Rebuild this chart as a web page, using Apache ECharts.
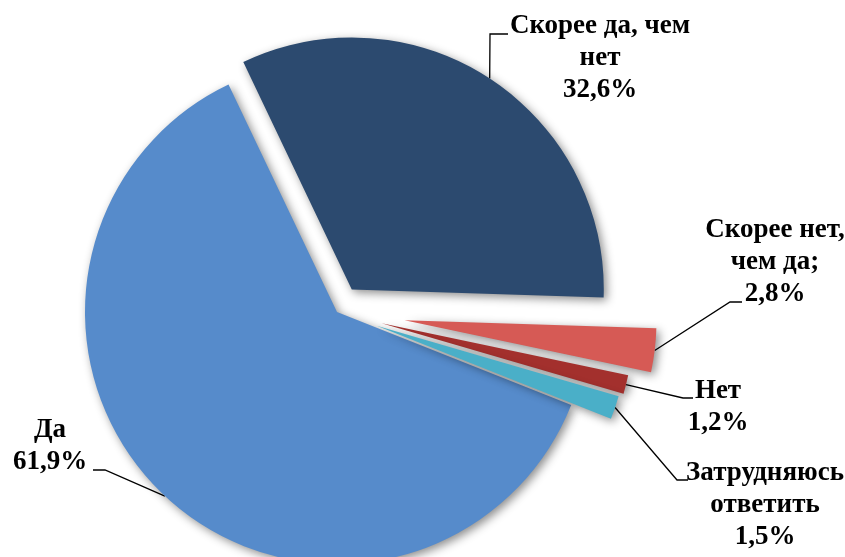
<!DOCTYPE html>
<html>
<head>
<meta charset="utf-8">
<script src="https://cdn.jsdelivr.net/npm/echarts@6/dist/echarts.min.js"></script>
<style>
  html, body { margin: 0; padding: 0; background: #fff; }
  #chart { width: 845px; height: 557px; }
</style>
</head>
<body>
<div id="chart"></div>
<script>
var categories = ['Скорее да, чем\nнет', 'Скорее нет,\nчем да;', 'Нет', 'Затрудняюсь\nответить', 'Да'];
var values = [32.6, 2.8, 1.2, 1.5, 61.9];
var colors = ['#2c4a6f', '#d65a55', '#a3302d', '#4aafc8', '#568bcb'];

// how far each slice is pulled out of the pie, px
var pullOut = [27, 68, 46, 42, 0];

// where each label sits (centre x, top y) and the bend of its leader line
var labelPlace = [
  { x: 600, y: 10, bend: [[490, 34], [508, 34]] },
  { x: 775, y: 214, bend: [[730, 302], [742, 302]] },
  { x: 718, y: 375, bend: [[683, 398], [693, 398]] },
  { x: 765, y: 457, bend: [[677, 480], [688, 480]] },
  { x: 50, y: 414, bend: [[105, 470], [93, 470]] }
];

var cx = 337, cy = 312, R = 252, startAngle = 115.5;

function fmt(v) { return v.toFixed(1).replace('.', ',') + '%'; }

var total = values.reduce(function (a, b) { return a + b; }, 0);
function midAngle(i) {
  var before = 0;
  for (var j = 0; j < i; j++) before += values[j];
  return (startAngle - (before + values[i] / 2) / total * 360) * Math.PI / 180;
}

// one pie layer per slice, all with the same angles; only its own slice is visible
var series = values.map(function (val, k) {
  var a = midAngle(k);
  return {
    type: 'pie',
    center: [cx + pullOut[k] * Math.cos(a), cy - pullOut[k] * Math.sin(a)],
    radius: [0, R],
    startAngle: startAngle,
    clockwise: true,
    avoidLabelOverlap: false,
    silent: true,
    animation: false,
    z: k === 4 ? 1 : 2,
    label: {
      show: true,
      position: 'outside',
      color: '#000',
      fontFamily: 'Liberation Serif',
      fontWeight: 'bold',
      fontSize: 27,
      lineHeight: 32,
      align: 'center',
      formatter: function (p) { return categories[p.dataIndex] + '\n' + fmt(values[p.dataIndex]); }
    },
    labelLine: { show: true, lineStyle: { color: '#000', width: 1.3 } },
    labelLayout: function (p) {
      var pl = labelPlace[p.dataIndex];
      var start = p.labelLinePoints ? p.labelLinePoints[0] : pl.bend[0];
      return {
        x: pl.x, y: pl.y, align: 'center', verticalAlign: 'top',
        labelLinePoints: [start, pl.bend[0], pl.bend[1]]
      };
    },
    data: values.map(function (v, i) {
      var own = i === k;
      return {
        name: categories[i],
        value: v,
        itemStyle: own ? {
          color: colors[i],
          shadowBlur: 10,
          shadowColor: 'rgba(0,0,0,0.45)',
          shadowOffsetX: 3,
          shadowOffsetY: 3
        } : { color: 'rgba(0,0,0,0)' },
        label: { show: own },
        labelLine: { show: own }
      };
    })
  };
});

var chart = echarts.init(document.getElementById('chart'));
chart.setOption({
  backgroundColor: '#fff',
  series: series
});
</script>
</body>
</html>
